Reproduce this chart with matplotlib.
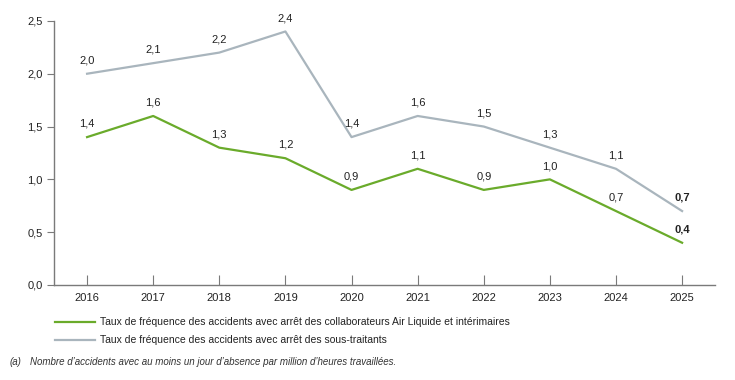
import matplotlib.pyplot as plt

years = [2016, 2017, 2018, 2019, 2020, 2021, 2022, 2023, 2024, 2025]
collab = [1.4, 1.6, 1.3, 1.2, 0.9, 1.1, 0.9, 1.0, 0.7, 0.4]
sous = [2.0, 2.1, 2.2, 2.4, 1.4, 1.6, 1.5, 1.3, 1.1, 0.7]
yticks = [0.0, 0.5, 1.0, 1.5, 2.0, 2.5]

green = "#6aab2b"
grey = "#a9b5bd"
axcol = "#7a7a7a"

plt.rcParams['font.family'] = ['Liberation Sans', 'DejaVu Sans']

fig = plt.figure(figsize=(7.35, 3.8), dpi=100)
ax = fig.add_axes([0.0735, 0.25, 0.8995, 0.695])

ax.plot(years, sous, color=grey, lw=1.6)
ax.plot(years, collab, color=green, lw=1.6)

def fmt(v):
    return ("%.1f" % v).replace(".", ",")

for i, (x, y) in enumerate(zip(years, sous)):
    last = i == len(years) - 1
    ax.annotate(fmt(y), (x, y), xytext=(0, 6), textcoords="offset points",
                ha="center", va="bottom", fontsize=8, color="#222222",
                fontweight="bold" if last else "normal")
for i, (x, y) in enumerate(zip(years, collab)):
    last = i == len(years) - 1
    ax.annotate(fmt(y), (x, y), xytext=(0, 6), textcoords="offset points",
                ha="center", va="bottom", fontsize=8, color="#222222",
                fontweight="bold" if last else "normal")

ax.set_xlim(2015.5, 2025.5)
ax.set_ylim(0, 2.5)
ax.set_xticks(years)
ax.set_xticklabels([str(y) for y in years])
ax.set_yticks(yticks)
ax.set_yticklabels([fmt(v) for v in yticks])

for s in ["top", "right"]:
    ax.spines[s].set_visible(False)
for s in ["left", "bottom"]:
    ax.spines[s].set_color(axcol)
    ax.spines[s].set_linewidth(1.0)
ax.tick_params(axis="y", direction="out", length=5, color=axcol, labelsize=8, labelcolor="#222222", pad=3)
ax.tick_params(axis="x", direction="in", length=7, color=axcol, labelsize=8, labelcolor="#222222", pad=6)

# legend drawn manually in figure coords
fig.lines.append(plt.Line2D([55/735, 95/735], [1 - 322/380] * 2, color=green, lw=1.6, transform=fig.transFigure))
fig.lines.append(plt.Line2D([55/735, 95/735], [1 - 340/380] * 2, color=grey, lw=1.6, transform=fig.transFigure))
fig.text(100/735, 1 - 322/380, "Taux de fréquence des accidents avec arrêt des collaborateurs Air Liquide et intérimaires",
         fontsize=7.5, va="center", color="#222222")
fig.text(100/735, 1 - 340/380, "Taux de fréquence des accidents avec arrêt des sous-traitants",
         fontsize=7.5, va="center", color="#222222")
fig.text(10/735, 1 - 362/380, "(a)", fontsize=7, style="italic", va="center", color="#333333")
fig.text(30/735, 1 - 362/380, "Nombre d’accidents avec au moins un jour d’absence par million d’heures travaillées.",
         fontsize=7, style="italic", va="center", color="#333333")

fig.savefig("out.png", dpi=100)
